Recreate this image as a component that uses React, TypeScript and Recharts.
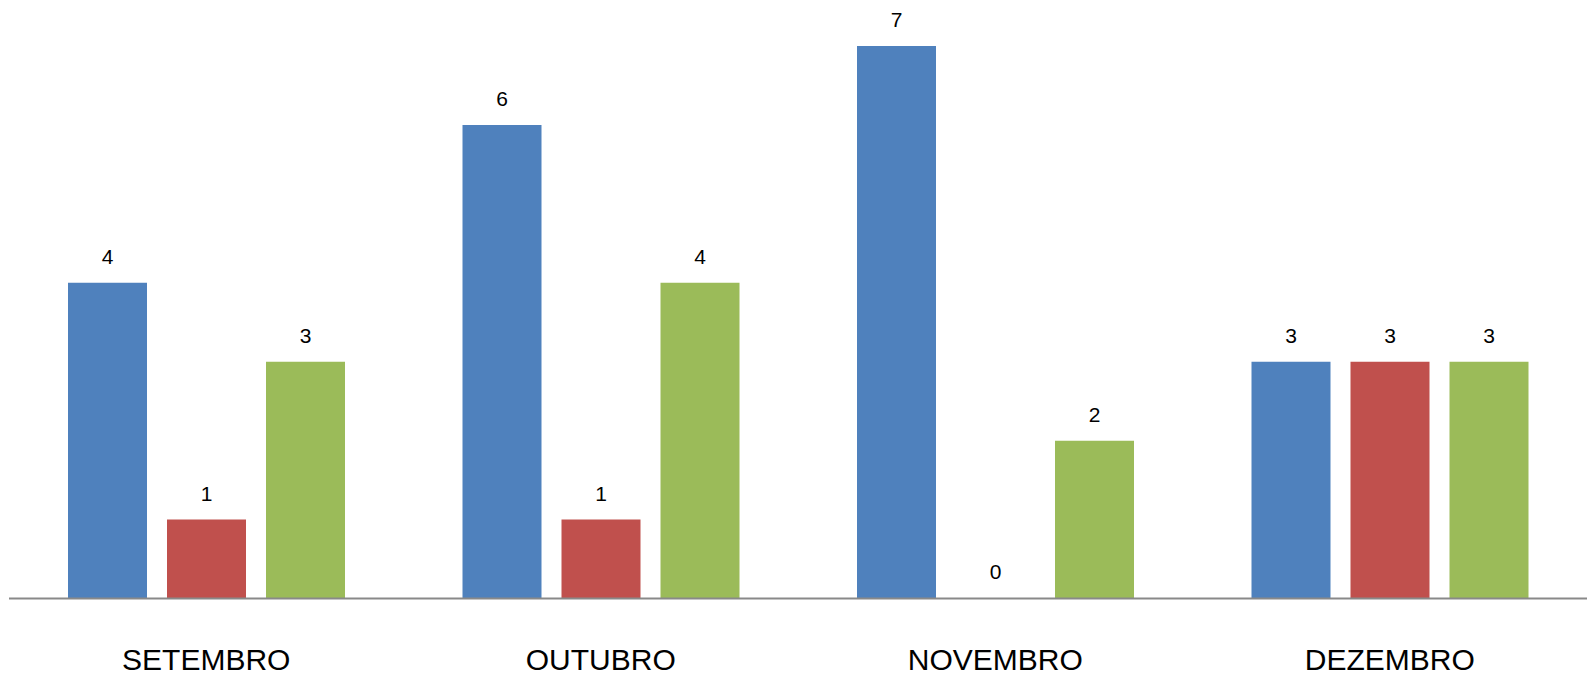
import { Bar, BarChart, LabelList, XAxis, YAxis } from "recharts";

const months = ["SETEMBRO", "OUTUBRO", "NOVEMBRO", "DEZEMBRO"];
const serieA = [4, 6, 7, 3];
const serieB = [1, 1, 0, 3];
const serieC = [3, 4, 2, 3];

const data = months.map((m, i) => ({
  mes: m,
  a: serieA[i],
  b: serieB[i],
  c: serieC[i],
}));

const FONT = "'Liberation Sans', Arial, sans-serif";
const labelStyle = { fontSize: 21, fill: "#000", fontFamily: FONT };

export default function App() {
  return (
    <div style={{ position: "absolute", left: 0, top: 0, background: "#fff" }}>
      <BarChart
        width={1587}
        height={676}
        data={data}
        margin={{ top: 46, right: 0, bottom: 0, left: 9 }}
        barSize={79}
        barGap={20}
      >
        <XAxis
          dataKey="mes"
          height={77.5}
          tickLine={false}
          tickSize={0}
          tickMargin={50}
          axisLine={{ stroke: "#898989", strokeWidth: 2 }}
          tick={{ fontSize: 30, fill: "#000", fontFamily: FONT }}
        />
        <YAxis hide domain={[0, 7]} />
        <Bar dataKey="a" fill="#4F81BD" isAnimationActive={false}>
          <LabelList dataKey="a" position="top" offset={19} style={labelStyle} />
        </Bar>
        <Bar dataKey="b" fill="#C0504D" minPointSize={0.01} isAnimationActive={false}>
          <LabelList dataKey="b" position="top" offset={19} style={labelStyle} />
        </Bar>
        <Bar dataKey="c" fill="#9BBB59" isAnimationActive={false}>
          <LabelList dataKey="c" position="top" offset={19} style={labelStyle} />
        </Bar>
      </BarChart>
    </div>
  );
}
